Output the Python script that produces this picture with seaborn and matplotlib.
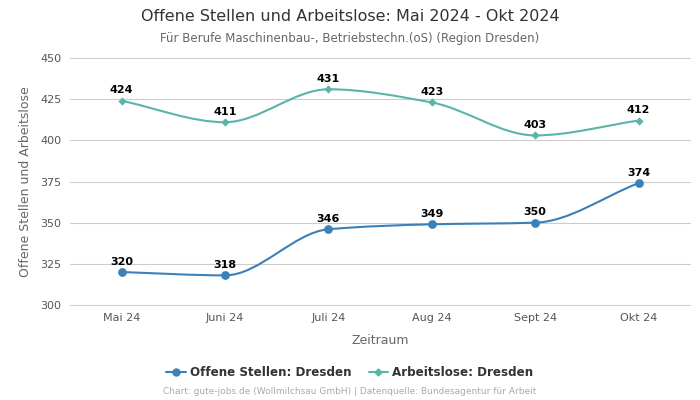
import matplotlib
matplotlib.use("Agg")
import matplotlib.pyplot as plt
import numpy as np
import pandas as pd
import seaborn as sns
from matplotlib.lines import Line2D
from matplotlib.patches import PathPatch
from matplotlib.path import Path

months = ["Mai 24", "Juni 24", "Juli 24", "Aug 24", "Sept 24", "Okt 24"]
offene_stellen = [320, 318, 346, 349, 350, 374]
arbeitslose = [424, 411, 431, 423, 403, 412]

BLUE = "#3a80ba"
TEAL = "#5ab4ac"


def monotone_slopes(x, y):
    x = np.asarray(x, float)
    y = np.asarray(y, float)
    d = np.diff(y) / np.diff(x)
    m = np.zeros_like(y)
    m[0], m[-1] = d[0], d[-1]
    for i in range(1, len(y) - 1):
        if d[i - 1] * d[i] <= 0:
            m[i] = 0.0
        else:
            m[i] = 2.0 / (1.0 / d[i - 1] + 1.0 / d[i])
    return m


def smooth_path(x, y):
    # bezier segments through the data points, monotone tangents
    m = monotone_slopes(x, y)
    verts = [(x[0], y[0])]
    codes = [Path.MOVETO]
    for i in range(len(x) - 1):
        h = (x[i + 1] - x[i]) / 3.0
        verts += [(x[i] + h, y[i] + m[i] * h),
                  (x[i + 1] - h, y[i + 1] - m[i + 1] * h),
                  (x[i + 1], y[i + 1])]
        codes += [Path.CURVE4] * 3
    return Path(verts, codes)


df = pd.DataFrame({
    "pos": np.arange(len(months)),
    "offene": offene_stellen,
    "arbeitslose": arbeitslose,
})

sns.set_theme(style="white")
plt.rcParams["font.family"] = ["DejaVu Sans"]

fig = plt.figure(figsize=(7, 4), dpi=100)
ax = fig.add_axes([0.1, 0.2375, 0.886, 0.6175])

for col, color, marker, size in [("arbeitslose", TEAL, "D", 4),
                                 ("offene", BLUE, "o", 6)]:
    ax.add_patch(PathPatch(smooth_path(df["pos"].values, df[col].values),
                           facecolor="none", edgecolor=color, lw=1.5, zorder=2))
    sns.scatterplot(data=df, x="pos", y=col, ax=ax, color=color, marker=marker,
                    s=size ** 2 * 1.1, edgecolor=color, linewidth=0, zorder=3)
    for xp, yv in zip(df["pos"], df[col]):
        ax.annotate(str(yv), (xp, yv), xytext=(0, 4), textcoords="offset points",
                    ha="center", va="bottom", fontsize=8, fontweight="bold",
                    color="black")

ax.set_xlim(-0.5, len(months) - 0.5)
ax.set_ylim(300, 450)
ax.set_yticks([300, 325, 350, 375, 400, 425, 450])
ax.set_xticks(df["pos"])
ax.set_xticklabels(months)
ax.tick_params(axis="both", length=0, labelsize=8, labelcolor="#555555", pad=6)
ax.grid(axis="y", color="#cccccc", lw=0.8, clip_on=False)
ax.set_axisbelow(True)
for s in ax.spines.values():
    s.set_visible(False)

ax.set_xlabel("Zeitraum", fontsize=9, color="#666666", labelpad=8)
ax.set_ylabel("Offene Stellen und Arbeitslose", fontsize=9, color="#666666", labelpad=6)

fig.text(0.5, 0.958, "Offene Stellen und Arbeitslose: Mai 2024 - Okt 2024",
         ha="center", va="center", fontsize=11.5, color="#333333")
fig.text(0.5, 0.903, "Für Berufe Maschinenbau-, Betriebstechn.(oS) (Region Dresden)",
         ha="center", va="center", fontsize=8.5, color="#666666")

handles = [
    Line2D([], [], color=BLUE, marker="o", markersize=5, lw=1.5),
    Line2D([], [], color=TEAL, marker="D", markersize=3.5, lw=1.5),
]
fig.legend(handles, ["Offene Stellen: Dresden", "Arbeitslose: Dresden"],
           loc="center", bbox_to_anchor=(0.5, 0.068), ncol=2, frameon=False,
           prop={"size": 8.6, "weight": "bold"}, labelcolor="#333333",
           handlelength=1.6, columnspacing=1.4, handletextpad=0.4)

fig.text(0.5, 0.02, "Chart: gute-jobs.de (Wollmilchsau GmbH) | Datenquelle: Bundesagentur für Arbeit",
         ha="center", va="center", fontsize=6.5, color="#aaaaaa")

fig.savefig("out.png", dpi=100)
